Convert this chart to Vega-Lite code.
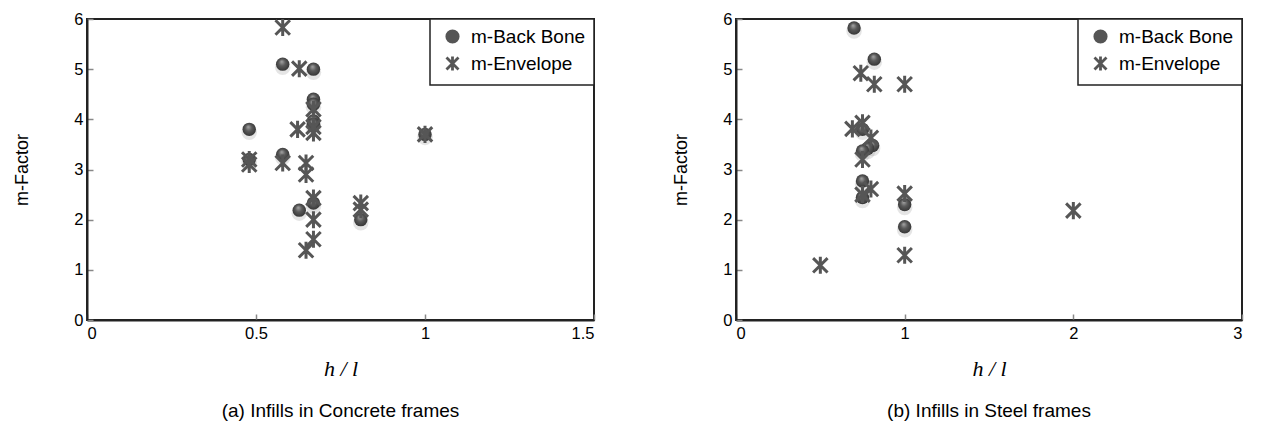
{
  "$schema": "https://vega.github.io/schema/vega-lite/v6.json",
  "background": "white",
  "padding": {"left": 12, "top": 10, "right": 5, "bottom": 5},
  "datasets": {
    "concrete": [
      {"h_l": 0.579, "m": 5.1, "series": "m-Back Bone"},
      {"h_l": 0.67, "m": 5.0, "series": "m-Back Bone"},
      {"h_l": 0.67, "m": 4.4, "series": "m-Back Bone"},
      {"h_l": 0.67, "m": 4.3, "series": "m-Back Bone"},
      {"h_l": 0.67, "m": 3.97, "series": "m-Back Bone"},
      {"h_l": 0.67, "m": 3.9, "series": "m-Back Bone"},
      {"h_l": 0.48, "m": 3.8, "series": "m-Back Bone"},
      {"h_l": 0.579, "m": 3.3, "series": "m-Back Bone"},
      {"h_l": 0.48, "m": 3.2, "series": "m-Back Bone"},
      {"h_l": 0.628, "m": 2.19, "series": "m-Back Bone"},
      {"h_l": 0.67, "m": 2.33, "series": "m-Back Bone"},
      {"h_l": 0.81, "m": 2.0, "series": "m-Back Bone"},
      {"h_l": 1.0, "m": 3.7, "series": "m-Back Bone"},
      {"h_l": 0.579, "m": 5.83, "series": "m-Envelope"},
      {"h_l": 0.628, "m": 5.01, "series": "m-Envelope"},
      {"h_l": 0.67, "m": 4.2, "series": "m-Envelope"},
      {"h_l": 0.623, "m": 3.8, "series": "m-Envelope"},
      {"h_l": 0.67, "m": 3.85, "series": "m-Envelope"},
      {"h_l": 0.67, "m": 3.73, "series": "m-Envelope"},
      {"h_l": 0.48, "m": 3.2, "series": "m-Envelope"},
      {"h_l": 0.48, "m": 3.1, "series": "m-Envelope"},
      {"h_l": 0.579, "m": 3.13, "series": "m-Envelope"},
      {"h_l": 0.648, "m": 3.13, "series": "m-Envelope"},
      {"h_l": 0.648, "m": 2.9, "series": "m-Envelope"},
      {"h_l": 0.67, "m": 2.43, "series": "m-Envelope"},
      {"h_l": 0.67, "m": 2.0, "series": "m-Envelope"},
      {"h_l": 0.67, "m": 1.61, "series": "m-Envelope"},
      {"h_l": 0.648, "m": 1.39, "series": "m-Envelope"},
      {"h_l": 0.81, "m": 2.33, "series": "m-Envelope"},
      {"h_l": 0.81, "m": 2.2, "series": "m-Envelope"},
      {"h_l": 1.0, "m": 3.7, "series": "m-Envelope"}
    ],
    "steel": [
      {"h_l": 0.70, "m": 5.82, "series": "m-Back Bone"},
      {"h_l": 0.82, "m": 5.2, "series": "m-Back Bone"},
      {"h_l": 0.75, "m": 3.8, "series": "m-Back Bone"},
      {"h_l": 0.81, "m": 3.48, "series": "m-Back Bone"},
      {"h_l": 0.78, "m": 3.42, "series": "m-Back Bone"},
      {"h_l": 0.75, "m": 3.37, "series": "m-Back Bone"},
      {"h_l": 0.75, "m": 2.77, "series": "m-Back Bone"},
      {"h_l": 0.75, "m": 2.44, "series": "m-Back Bone"},
      {"h_l": 1.0, "m": 2.3, "series": "m-Back Bone"},
      {"h_l": 1.0, "m": 1.86, "series": "m-Back Bone"},
      {"h_l": 0.74, "m": 4.92, "series": "m-Envelope"},
      {"h_l": 0.82, "m": 4.7, "series": "m-Envelope"},
      {"h_l": 1.0, "m": 4.7, "series": "m-Envelope"},
      {"h_l": 0.69, "m": 3.81, "series": "m-Envelope"},
      {"h_l": 0.75, "m": 3.93, "series": "m-Envelope"},
      {"h_l": 0.80, "m": 3.63, "series": "m-Envelope"},
      {"h_l": 0.75, "m": 3.2, "series": "m-Envelope"},
      {"h_l": 0.80, "m": 2.61, "series": "m-Envelope"},
      {"h_l": 0.75, "m": 2.5, "series": "m-Envelope"},
      {"h_l": 1.0, "m": 2.52, "series": "m-Envelope"},
      {"h_l": 1.0, "m": 1.29, "series": "m-Envelope"},
      {"h_l": 0.5, "m": 1.09, "series": "m-Envelope"},
      {"h_l": 2.0, "m": 2.18, "series": "m-Envelope"}
    ]
  },
  "resolve": {
    "scale": {"shape": "independent", "fill": "independent", "stroke": "independent"},
    "legend": {"shape": "independent", "fill": "independent", "stroke": "independent"}
  },
  "spacing": 75,
  "hconcat": [
    {
      "width": 507, "height": 301,
      "data": {"name": "concrete"},
      "title": {"text": "(a) Infills in Concrete frames", "orient": "bottom", "offset": 22},
      "encoding": {
        "x": {"field": "h_l", "type": "quantitative", "scale": {"domain": [0, 1.5], "nice": false, "zero": true}, "axis": {"values": [0, 0.5, 1, 1.5], "format": "~g", "title": "h / l"}},
        "y": {"field": "m", "type": "quantitative", "scale": {"domain": [0, 6], "nice": false}, "axis": {"values": [0, 1, 2, 3, 4, 5, 6], "title": "m-Factor", "titlePadding": 42}}
      },
      "layer": [
        {
          "mark": {"type": "point", "opacity": 0, "size": 200},
          "encoding": {
            "shape": {"field": "series", "type": "nominal",
              "scale": {"domain": ["m-Back Bone", "m-Envelope"], "range": ["circle", "M-0.85,-0.85L0.85,0.85M-0.85,0.85L0.85,-0.85M0,-1L0,1"]},
              "legend": {"title": null, "orient": "top-right", "offset": 0}},
            "fill": {"field": "series", "type": "nominal",
              "scale": {"domain": ["m-Back Bone", "m-Envelope"], "range": ["#555555", "transparent"]},
              "legend": {"title": null, "orient": "top-right", "offset": 0}},
            "stroke": {"field": "series", "type": "nominal",
              "scale": {"domain": ["m-Back Bone", "m-Envelope"], "range": ["transparent", "#565656"]},
              "legend": {"title": null, "orient": "top-right", "offset": 0}}
          }
        },
        {
          "transform": [{"filter": "datum.series === 'm-Back Bone'"}],
          "mark": {"type": "point", "shape": "circle", "filled": true, "fill": "#8a8a8a", "opacity": 0.22, "size": 240, "yOffset": 3, "strokeWidth": 0}
        },
        {
          "transform": [{"filter": "datum.series === 'm-Back Bone'"}],
          "mark": {"type": "point", "shape": "circle", "filled": true, "opacity": 1, "size": 180, "strokeWidth": 0,
            "fill": {"gradient": "radial", "x1": 0.42, "y1": 0.3, "r1": 0, "x2": 0.5, "y2": 0.5, "r2": 0.55,
              "stops": [{"offset": 0, "color": "#a8a8a8"}, {"offset": 0.45, "color": "#5a5a5a"}, {"offset": 1, "color": "#333333"}]}}
        },
        {
          "transform": [{"filter": "datum.series === 'm-Envelope'"}],
          "mark": {"type": "point", "shape": "M-0.85,-0.85L0.85,0.85M-0.85,0.85L0.85,-0.85M0,-1L0,1", "filled": false, "stroke": "#565656", "strokeWidth": 3, "opacity": 1, "size": 290}
        }
      ]
    },
    {
      "width": 506, "height": 301,
      "data": {"name": "steel"},
      "title": {"text": "(b) Infills in Steel frames", "orient": "bottom", "offset": 22},
      "encoding": {
        "x": {"field": "h_l", "type": "quantitative", "scale": {"domain": [0, 3], "nice": false}, "axis": {"values": [0, 1, 2, 3], "title": "h / l"}},
        "y": {"field": "m", "type": "quantitative", "scale": {"domain": [0, 6], "nice": false}, "axis": {"values": [0, 1, 2, 3, 4, 5, 6], "title": "m-Factor", "titlePadding": 32}}
      },
      "layer": [
        {
          "mark": {"type": "point", "opacity": 0, "size": 200},
          "encoding": {
            "shape": {"field": "series", "type": "nominal",
              "scale": {"domain": ["m-Back Bone", "m-Envelope"], "range": ["circle", "M-0.85,-0.85L0.85,0.85M-0.85,0.85L0.85,-0.85M0,-1L0,1"]},
              "legend": {"title": null, "orient": "top-right", "offset": 0}},
            "fill": {"field": "series", "type": "nominal",
              "scale": {"domain": ["m-Back Bone", "m-Envelope"], "range": ["#555555", "transparent"]},
              "legend": {"title": null, "orient": "top-right", "offset": 0}},
            "stroke": {"field": "series", "type": "nominal",
              "scale": {"domain": ["m-Back Bone", "m-Envelope"], "range": ["transparent", "#565656"]},
              "legend": {"title": null, "orient": "top-right", "offset": 0}}
          }
        },
        {
          "transform": [{"filter": "datum.series === 'm-Back Bone'"}],
          "mark": {"type": "point", "shape": "circle", "filled": true, "fill": "#8a8a8a", "opacity": 0.22, "size": 240, "yOffset": 3, "strokeWidth": 0}
        },
        {
          "transform": [{"filter": "datum.series === 'm-Back Bone'"}],
          "mark": {"type": "point", "shape": "circle", "filled": true, "opacity": 1, "size": 180, "strokeWidth": 0,
            "fill": {"gradient": "radial", "x1": 0.42, "y1": 0.3, "r1": 0, "x2": 0.5, "y2": 0.5, "r2": 0.55,
              "stops": [{"offset": 0, "color": "#a8a8a8"}, {"offset": 0.45, "color": "#5a5a5a"}, {"offset": 1, "color": "#333333"}]}}
        },
        {
          "transform": [{"filter": "datum.series === 'm-Envelope'"}],
          "mark": {"type": "point", "shape": "M-0.85,-0.85L0.85,0.85M-0.85,0.85L0.85,-0.85M0,-1L0,1", "filled": false, "stroke": "#565656", "strokeWidth": 3, "opacity": 1, "size": 290}
        }
      ]
    }
  ],
  "config": {
    "font": "Liberation Sans",
    "view": {"stroke": "#222222", "strokeWidth": 2},
    "axis": {
      "grid": false,
      "domainColor": "#222222", "domainWidth": 2,
      "tickColor": "#888888", "tickWidth": 1.5, "tickSize": -6,
      "labelFont": "Liberation Sans", "labelFontSize": 16.5, "labelColor": "#000000",
      "titleFont": "Liberation Sans", "titleFontWeight": "normal", "titleColor": "#000000"
    },
    "axisY": {"labelPadding": 10, "labelFontSize": 16.5, "titleFontSize": 18},
    "axisX": {"labelPadding": 11, "labelFontSize": 16.5, "titleFont": "Liberation Serif", "titleFontStyle": "italic", "titleFontSize": 22, "titlePadding": 17},
    "title": {"font": "Liberation Sans", "fontSize": 19, "fontWeight": "normal", "color": "#000000"},
    "legend": {
      "strokeColor": "#222222", "strokeWidth": 1.5, "fillColor": "white", "cornerRadius": 0,
      "padding": 8, "symbolOffset": 5, "rowPadding": 0, "symbolSize": 200, "symbolOpacity": 1, "symbolStrokeWidth": 2.8,
      "labelFont": "Liberation Sans", "labelFontSize": 19, "labelColor": "#000000", "labelOffset": 9
    }
  }
}
